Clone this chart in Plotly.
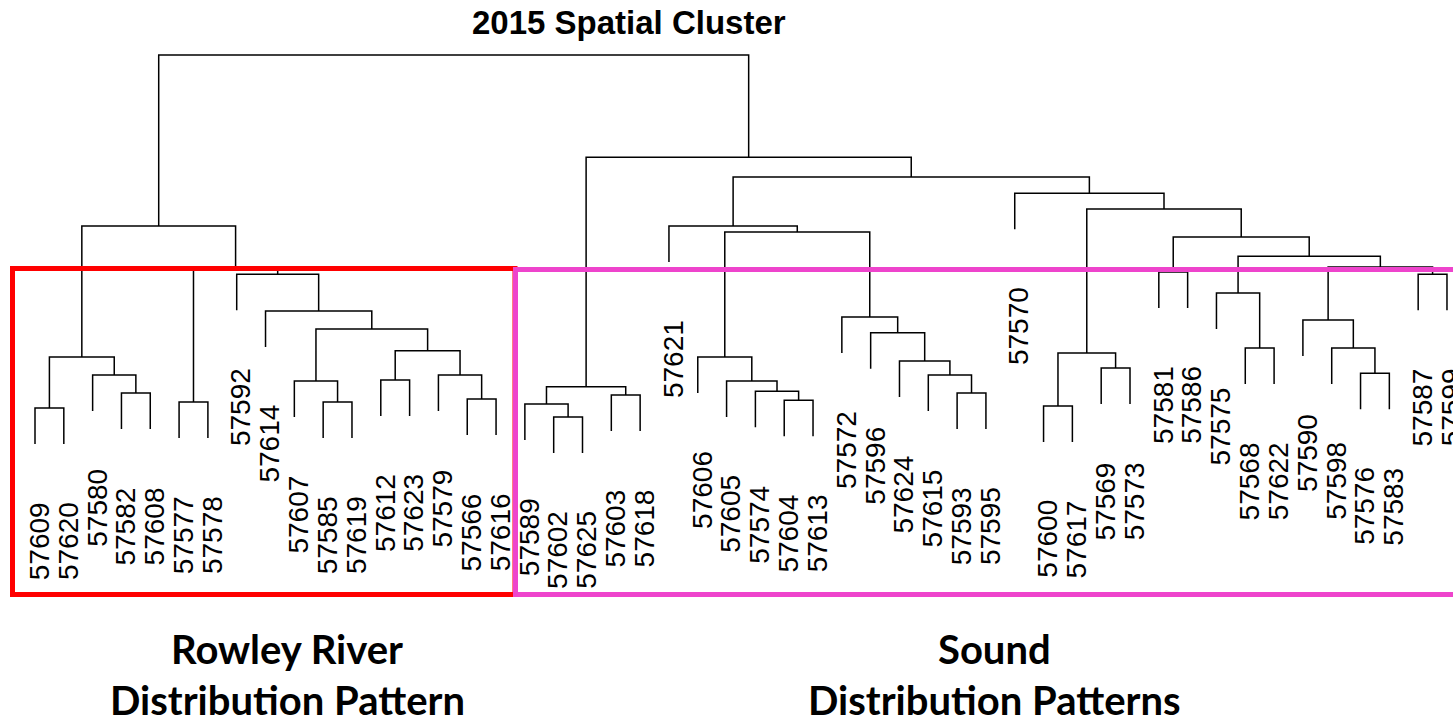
import plotly.graph_objects as go

# leaves in dendrogram order
leaf_labels = ["57609", "57620", "57580", "57582", "57608", "57577", "57578", "57592",
               "57614", "57607", "57585", "57619", "57612", "57623", "57579", "57566",
               "57616", "57589", "57602", "57625", "57603", "57618", "57621", "57606",
               "57605", "57574", "57604", "57613", "57572", "57596", "57624", "57615",
               "57593", "57595", "57570", "57600", "57617", "57569", "57573", "57581",
               "57586", "57575", "57568", "57622", "57590", "57598", "57576", "57583",
               "57587", "57599"]

# hclust-style merge table: negative = leaf (1-based position), positive = earlier merge row
merge_left = [-1, -4, -3, 1, -6, -11, -10, -13, -16, -15, 8, 7, -9, -8, 5, 4,
              -19, -18, -21, 18, -27, -26, -25, -24, -33, -32, -31, -30, -29, 24, -23,
              -36, -38, 32, -40, -43, -42, -47, -46, -45, -49, 40, 37, 35, 34, -35, 31, 20, 16]
merge_right = [-2, -5, 2, 3, -7, -12, 6, -14, -17, 9, 10, 11, 12, 13, 14, 15,
               -20, 17, -22, 19, -28, 21, 22, 23, -34, 25, 26, 27, 28, 29, 30,
               -37, -39, 33, -41, -44, 36, -48, 38, 39, -50, 41, 42, 43, 44, 45, 46, 47, 48]
merge_height = [1.72, 2.14, 2.64, 3.14, 1.89, 1.89, 2.47, 2.50, 1.97, 2.64, 3.31, 3.92,
                4.42, 5.44, 5.61, 6.78,
                1.47, 1.83, 2.08, 2.31, 1.94, 2.19, 2.47, 3.14, 2.14, 2.64, 3.03, 3.81,
                4.25, 6.61, 6.78,
                1.78, 2.83, 3.25, 5.50, 3.39, 4.92, 2.69, 3.39, 4.17, 5.44, 5.64, 5.94,
                6.47, 7.25, 7.69, 8.14, 8.69, 11.53]

hang = 1.0
label_gap = 1.56

node_x = []
leaf_end = {}
xs, ys = [], []
for left, right, h in zip(merge_left, merge_right, merge_height):
    ends = []
    for ref in (left, right):
        if ref < 0:
            leaf_end[-ref] = h - hang
            ends.append((-ref, h - hang))
        else:
            ends.append((node_x[ref - 1], merge_height[ref - 1]))
    (xa, ya), (xb, yb) = ends
    xs += [xa, xa, xb, xb, None]
    ys += [ya, h, h, yb, None]
    node_x.append((xa + xb) / 2)

fig = go.Figure(go.Scatter(x=xs, y=ys, mode="lines",
                           line=dict(color="black", width=1.5),
                           hoverinfo="skip", showlegend=False))

W, H = 1453, 725
step = 28.816
annotations = []
for i, lab in enumerate(leaf_labels, start=1):
    annotations.append(dict(x=i, y=leaf_end[i] - label_gap, text=lab, textangle=-90,
                            xanchor="center", yanchor="top", showarrow=False, xshift=4,
                            font=dict(family="Liberation Sans, Arial", size=28, color="black")))

annotations.append(dict(xref="paper", yref="paper", x=629 / W, y=1 - 23 / H,
                        text="<b>2015 Spatial Cluster</b>", showarrow=False,
                        xanchor="center", yanchor="middle",
                        font=dict(family="Liberation Sans, Arial", size=33, color="black")))

bottom_font = dict(family="Lato, Open Sans", size=40, color="black")
group_text = [("Rowley River", "Distribution Pattern", 287),
              ("Sound", "Distribution Patterns", 994)]
for line1, line2, cx in group_text:
    for txt, cy in ((line1, 649), (line2, 700)):
        annotations.append(dict(xref="paper", yref="paper", x=cx / W, y=1 - cy / H,
                                text="<b>%s</b>" % txt, showarrow=False,
                                xanchor="center", yanchor="middle", font=bottom_font))

shapes = [
    dict(type="rect", xref="paper", yref="paper", x0=12.5 / W, x1=515 / W,
         y0=1 - 594.5 / H, y1=1 - 268.5 / H, line=dict(color="#FF0000", width=5)),
    dict(type="rect", xref="paper", yref="paper", x0=515.5 / W, x1=1470 / W,
         y0=1 - 594.5 / H, y1=1 - 269.5 / H, line=dict(color="#EE44CC", width=5)),
]

fig.update_layout(
    width=W, height=H,
    margin=dict(l=0, r=0, t=0, b=0),
    paper_bgcolor="white", plot_bgcolor="white",
    xaxis=dict(range=[1 - 35 / step, 1 + (W - 35) / step], visible=False),
    yaxis=dict(range=[(470 - H) / 36, 470 / 36], visible=False),
    annotations=annotations,
    shapes=shapes,
)
fig.write_html("out.html", config={"displayModeBar": False},
               post_script="document.body.style.margin='0';")
